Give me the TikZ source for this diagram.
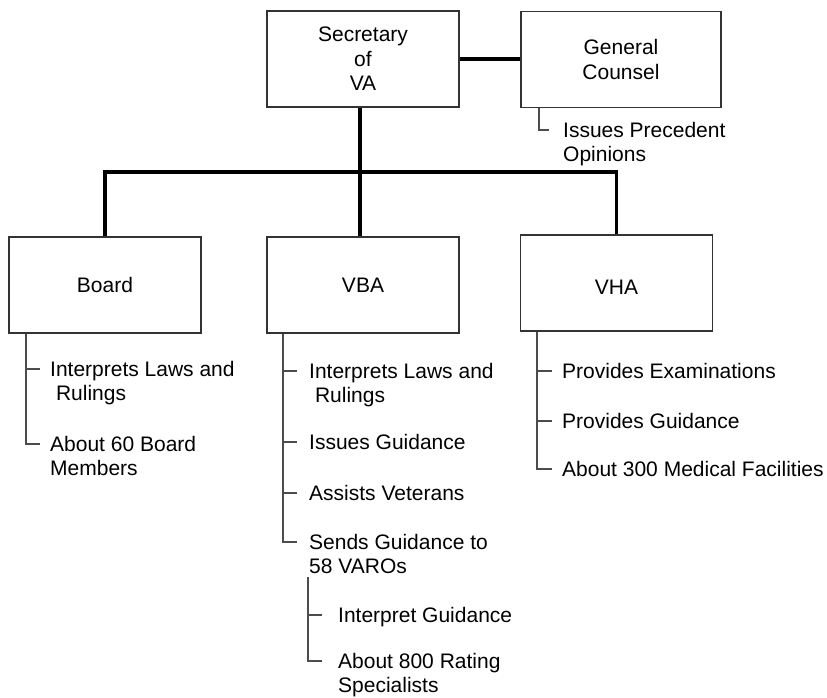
\documentclass[tikz,border=0pt]{standalone}
\usepackage{fontspec}
\setmainfont{Liberation Sans}
\begin{document}
\begin{tikzpicture}[x=1pt,y=-1pt,
  box/.style={draw=black!80, line width=1.1pt, minimum width=192pt, minimum height=96pt,
    align=center, inner sep=0pt, font=\fontsize{21}{24.5}\selectfont},
  item/.style={anchor=north west, inner sep=0pt, align=left, font=\fontsize{21}{24}\selectfont},
  trunk/.style={line width=3.2pt},
  twig/.style={draw=black!70, line width=1.3pt}]
\useasboundingbox (0,0) rectangle (827,698);

% boxes
\node[box] (sec) at (363,59) {Secretary\\of\\VA};
\node[box, minimum width=200pt] (gc) at (621,59.5) {General\\Counsel};
\node[box] (board) at (105,285) {Board};
\node[box] (vba) at (363,285) {VBA};
\node[box] (vha) at (616.5,283) {};
\node[inner sep=0pt, font=\fontsize{21}{24.5}\selectfont] (vhat) at ([yshift=-4pt]vha.center) {VHA};

% main connectors
\coordinate (bus) at (360,172);
\draw[trunk] (sec.east) -- (sec.east -| gc.west);
\draw[trunk] (sec.south -| bus) -- (vba.north -| bus);
\draw[trunk] (board.north) |- (bus) -| (vha.north);

% General Counsel list
\coordinate (gx) at (539,0);
\coordinate (g1t) at (549,130);
\node[item] (g1) at (563,122.5) {Issues Precedent\\Opinions};
\draw[twig] (gc.south -| gx) |- (g1t);

% Board list
\coordinate (bx) at (26,0);
\coordinate (b1t) at (40,369);
\coordinate (b2t) at (40,444);
\node[item] (b1) at (50,361.5) {Interprets Laws and\\\ Rulings};
\node[item] (b2) at (50,436.5) {About 60 Board\\Members};
\draw[twig] (board.south -| bx) |- (b2t);
\draw[twig] (b1t -| bx) -- (b1t);

% VBA list
\coordinate (vx) at (283,0);
\coordinate (v1t) at (297,371);
\coordinate (v2t) at (297,442);
\coordinate (v3t) at (297,493);
\coordinate (v4t) at (297,542);
\node[item] (v1) at (309,363.5) {Interprets Laws and\\\ Rulings};
\node[item] (v2) at (309,434.5) {Issues Guidance};
\node[item] (v3) at (309,485.5) {Assists Veterans};
\node[item] (v4) at (309,534.5) {Sends Guidance to\\58 VAROs};
\draw[twig] (vba.south -| vx) |- (v4t);
\draw[twig] (v1t -| vx) -- (v1t);
\draw[twig] (v2t -| vx) -- (v2t);
\draw[twig] (v3t -| vx) -- (v3t);

% VARO sub-list
\coordinate (sx) at (308,0);
\coordinate (s1t) at (322,615);
\coordinate (s2t) at (322,661);
\node[item] (s1) at (338,607.5) {Interpret Guidance};
\node[item] (s2) at (338,653.5) {About 800 Rating\\Specialists};
\draw[twig] ([yshift=-3pt]v4.south -| sx) |- (s2t);
\draw[twig] (s1t -| sx) -- (s1t);

% VHA list
\coordinate (hx) at (537,0);
\coordinate (h1t) at (552,371);
\coordinate (h2t) at (552,421);
\coordinate (h3t) at (552,469);
\node[item] (h1) at (562,363.5) {Provides Examinations};
\node[item] (h2) at (562,413.5) {Provides Guidance};
\node[item] (h3) at (562,461.5) {About 300 Medical Facilities};
\draw[twig] (vha.south -| hx) |- (h3t);
\draw[twig] (h1t -| hx) -- (h1t);
\draw[twig] (h2t -| hx) -- (h2t);
\end{tikzpicture}
\end{document}
